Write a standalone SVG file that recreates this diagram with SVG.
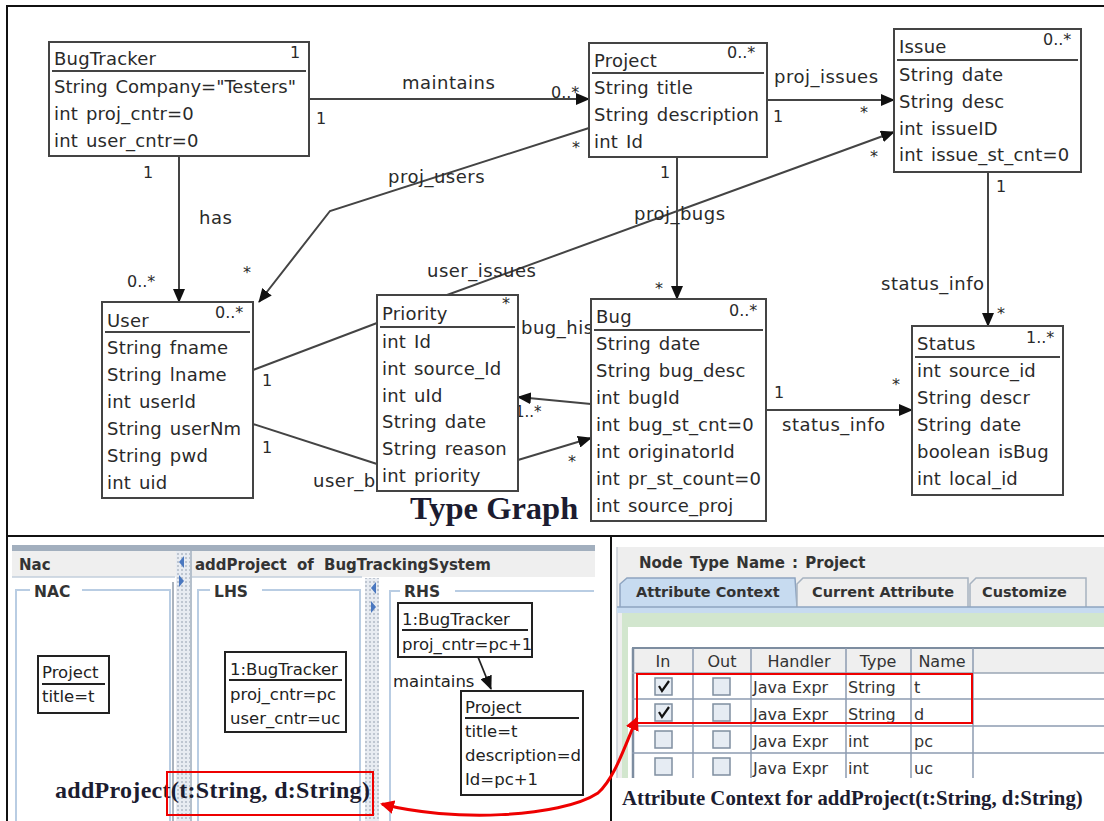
<svg xmlns="http://www.w3.org/2000/svg" width="1104" height="821" viewBox="0 0 1104 821">
<style>
.box{fill:#fff;stroke:#444;stroke-width:2}
.sep{stroke:#444;stroke-width:2}
.t{font-family:"DejaVu Sans",sans-serif;font-size:18px;fill:#2a2a2a;word-spacing:2px;letter-spacing:0.2px}
.m{font-family:"DejaVu Sans",sans-serif;font-size:16px;fill:#2a2a2a}
.l{font-family:"DejaVu Sans",sans-serif;font-size:18px;fill:#2a2a2a;letter-spacing:0.5px}
.c{stroke:#444;stroke-width:2;fill:none}
.ca{stroke:#444;stroke-width:2;fill:none;marker-end:url(#ah)}
.ser{font-family:"Liberation Serif","Times New Roman",serif;font-weight:bold;fill:#1c1c30}
.gb{font-family:"DejaVu Sans",sans-serif;font-weight:bold;font-size:15px;fill:#333}
.gt{font-family:"DejaVu Sans",sans-serif;font-size:16.5px;fill:#222}
.tb{font-family:"DejaVu Sans",sans-serif;font-size:16px;fill:#333}
.nb{fill:#fff;stroke:#222;stroke-width:2}
.lb{stroke:#b9cde3;stroke-width:2;fill:none}
.cb{fill:#e6ecf3;stroke:#7f8ea0;stroke-width:1.5}
.gl{stroke:#8d9bb0;stroke-width:1.5}
</style>
<defs>
<marker id="ah" viewBox="0 0 14 12" refX="13" refY="6" markerWidth="14" markerHeight="12" markerUnits="userSpaceOnUse" orient="auto"><path d="M0,0 L14,6 L0,12 z" fill="#111"/></marker>
<marker id="rh" viewBox="0 0 14 14" refX="12" refY="7" markerWidth="14" markerHeight="14" markerUnits="userSpaceOnUse" orient="auto-start-reverse"><path d="M0,0 L14,7 L0,14 z" fill="#e00"/></marker>
<pattern id="dots" width="4" height="4" patternUnits="userSpaceOnUse"><rect width="4" height="4" fill="#e8ecf2"/><circle cx="2" cy="2" r="0.8" fill="#8a96a8"/></pattern>
</defs>

<rect x="0" y="0" width="1104" height="821" fill="#fff"/>
<rect x="7" y="6" width="1110" height="830" fill="none" stroke="#111" stroke-width="2"/>
<line x1="7" y1="536" x2="1104" y2="536" stroke="#111" stroke-width="2"/>
<line x1="611" y1="536" x2="611" y2="821" stroke="#111" stroke-width="2"/>

<!-- connectors -->
<g id="connectors">
<line class="ca" x1="309" y1="99" x2="589" y2="99"/>
<line class="ca" x1="767" y1="100" x2="894" y2="100"/>
<line class="ca" x1="447" y1="295" x2="894" y2="132"/>
<polyline class="ca" points="589,128 330,211 259,302"/>
<line class="ca" x1="179" y1="156" x2="179" y2="302"/>
<line class="ca" x1="677" y1="157" x2="677" y2="299"/>
<line class="ca" x1="988" y1="172" x2="988" y2="326"/>
<line class="ca" x1="766" y1="410" x2="912" y2="410"/>
<line class="c" x1="253" y1="370" x2="377" y2="323"/>
<line class="c" x1="253" y1="424" x2="377" y2="464"/>
<line class="ca" x1="591" y1="404" x2="518" y2="397"/>
<line class="ca" x1="518" y1="460" x2="591" y2="438"/>
<text class="l" x="402" y="89">maintains</text>
<text class="m" x="551" y="98">0..*</text>
<text class="m" x="316" y="124">1</text>
<text class="l" x="774" y="83">proj_issues</text>
<text class="m" x="773" y="122">1</text>
<text class="m" x="860" y="118">*</text>
<text class="m" x="870" y="162">*</text>
<text class="l" x="388" y="183">proj_users</text>
<text class="m" x="572" y="153">*</text>
<text class="m" x="660" y="178">1</text>
<text class="l" x="634" y="220">proj_bugs</text>
<text class="m" x="655" y="294">*</text>
<text class="l" x="427" y="277">user_issues</text>
<text class="m" x="143" y="178">1</text>
<text class="l" x="199" y="224">has</text>
<text class="m" x="127" y="287">0..*</text>
<text class="m" x="243" y="278">*</text>
<text class="m" x="262" y="386">1</text>
<text class="m" x="262" y="453">1</text>
<text class="l" x="313" y="487">user_b</text>
<text class="l" x="521" y="334">bug_his</text>
<text class="m" x="515" y="417" style="font-size:15px">1..*</text>
<text class="m" x="568" y="467">*</text>
<text class="l" x="881" y="290">status_info</text>
<text class="m" x="997" y="319">*</text>
<text class="m" x="996" y="192">1</text>
<text class="m" x="774" y="398">1</text>
<text class="m" x="892" y="390">*</text>
<text class="l" x="782" y="431">status_info</text>
</g>

<g id="BugTracker">
<rect class="box" x="49" y="42" width="260" height="114"/>
<line class="sep" x1="52" y1="71" x2="306" y2="71"/>
<text class="t" x="54" y="65">BugTracker</text>
<text class="m" x="290" y="58">1</text>
<text class="t" x="54" y="93" style="letter-spacing:0">String Company="Testers"</text>
<text class="t" x="54" y="120">int proj_cntr=0</text>
<text class="t" x="54" y="147">int user_cntr=0</text>
</g>

<g id="Project">
<rect class="box" x="589" y="43" width="178" height="114"/>
<line class="sep" x1="592" y1="73" x2="764" y2="73"/>
<text class="t" x="594" y="67">Project</text>
<text class="m" x="727" y="58">0..*</text>
<text class="t" x="594" y="94">String title</text>
<text class="t" x="594" y="121">String description</text>
<text class="t" x="594" y="148">int Id</text>
</g>

<g id="Issue">
<rect class="box" x="894" y="29" width="187" height="143"/>
<line class="sep" x1="897" y1="60" x2="1078" y2="60"/>
<text class="t" x="899" y="53">Issue</text>
<text class="m" x="1043" y="45">0..*</text>
<text class="t" x="899" y="81">String date</text>
<text class="t" x="899" y="108">String desc</text>
<text class="t" x="899" y="135">int issueID</text>
<text class="t" x="899" y="161">int issue_st_cnt=0</text>
</g>

<g id="User">
<rect class="box" x="102" y="302" width="151" height="196"/>
<line class="sep" x1="105" y1="332" x2="250" y2="332"/>
<text class="t" x="107" y="327">User</text>
<text class="m" x="215" y="318">0..*</text>
<text class="t" x="107" y="354">String fname</text>
<text class="t" x="107" y="381">String lname</text>
<text class="t" x="107" y="408">int userId</text>
<text class="t" x="107" y="435">String userNm</text>
<text class="t" x="107" y="462">String pwd</text>
<text class="t" x="107" y="489">int uid</text>
</g>

<g id="Priority">
<rect class="box" x="377" y="295" width="141" height="196"/>
<line class="sep" x1="380" y1="327" x2="515" y2="327"/>
<text class="t" x="382" y="320">Priority</text>
<text class="m" x="502" y="309">*</text>
<text class="t" x="382" y="348">int Id</text>
<text class="t" x="382" y="375">int source_Id</text>
<text class="t" x="382" y="402">int uId</text>
<text class="t" x="382" y="428">String date</text>
<text class="t" x="382" y="455">String reason</text>
<text class="t" x="382" y="482">int priority</text>
</g>

<g id="Bug">
<rect class="box" x="591" y="299" width="175" height="222"/>
<line class="sep" x1="594" y1="330" x2="763" y2="330"/>
<text class="t" x="596" y="323">Bug</text>
<text class="m" x="729" y="316">0..*</text>
<text class="t" x="596" y="350">String date</text>
<text class="t" x="596" y="377">String bug_desc</text>
<text class="t" x="596" y="404">int bugId</text>
<text class="t" x="596" y="431">int bug_st_cnt=0</text>
<text class="t" x="596" y="458">int originatorId</text>
<text class="t" x="596" y="485">int pr_st_count=0</text>
<text class="t" x="596" y="512">int source_proj</text>
</g>

<g id="Status">
<rect class="box" x="912" y="326" width="151" height="169"/>
<line class="sep" x1="915" y1="357" x2="1060" y2="357"/>
<text class="t" x="917" y="350">Status</text>
<text class="m" x="1026" y="343">1..*</text>
<text class="t" x="917" y="377">int source_id</text>
<text class="t" x="917" y="404">String descr</text>
<text class="t" x="917" y="431">String date</text>
<text class="t" x="917" y="458">boolean isBug</text>
<text class="t" x="917" y="485">int local_id</text>
</g>

<text class="ser" x="410" y="519" style="font-size:32.5px">Type Graph</text>

<!-- bottom-left rule editor -->
<g id="rule-editor">
<rect x="12" y="545" width="583" height="6" fill="#a2afbe"/>
<rect x="12" y="551" width="583" height="26" fill="#efefef"/>
<line x1="12" y1="577" x2="175" y2="577" stroke="#c3cfdc" stroke-width="1.5"/>
<line x1="192" y1="577" x2="362" y2="577" stroke="#c3cfdc" stroke-width="1.5"/>
<rect x="176" y="551" width="14" height="270" fill="url(#dots)"/>
<rect x="190" y="551" width="2" height="270" fill="#b5c0cc"/>
<path d="M184,556 L179,562 L184,568 z" fill="#4a78c0"/>
<path d="M179,575 L184,581 L179,587 z" fill="#4a78c0"/>
<text class="gb" x="19" y="570">Nac</text>
<text class="gb" x="195" y="570" style="word-spacing:5px">addProject of BugTrackingSystem</text>
<path class="lb" d="M30,590 L16,590 L16,821 M82,590 L170,590 L170,821"/>
<line x1="173" y1="582" x2="173" y2="821" stroke="#8e9aa8" stroke-width="1.5"/>
<text class="gb" x="34" y="597" style="font-size:15.5px">NAC</text>
<path class="lb" d="M210,590 L198,590 L198,821 M262,590 L360,590 L360,821"/>
<text class="gb" x="214" y="597" style="font-size:15.5px">LHS</text>
<rect x="365" y="578" width="14" height="243" fill="url(#dots)"/>
<path d="M376,582 L371,588 L376,594 z" fill="#4a78c0"/>
<path d="M371,601 L376,607 L371,613 z" fill="#4a78c0"/>
<path class="lb" d="M400,591 L390,591 L390,821 M455,591 L594,591"/>
<text class="gb" x="404" y="597" style="font-size:15.5px">RHS</text>
</g>

<g id="nac-project">
<rect class="nb" x="38" y="656" width="71" height="57"/>
<line x1="42" y1="684" x2="105" y2="684" stroke="#222" stroke-width="2"/>
<text class="gt" x="42" y="678">Project</text>
<text class="gt" x="42" y="702">title=t</text>
</g>

<g id="lhs-bugtracker">
<rect class="nb" x="225" y="652" width="121" height="80"/>
<line x1="229" y1="680" x2="342" y2="680" stroke="#222" stroke-width="2"/>
<text class="gt" x="230" y="675">1:BugTracker</text>
<text class="gt" x="230" y="700">proj_cntr=pc</text>
<text class="gt" x="230" y="724">user_cntr=uc</text>
</g>

<g id="rhs-bugtracker">
<rect class="nb" x="398" y="603" width="134" height="54"/>
<line x1="402" y1="630" x2="528" y2="630" stroke="#222" stroke-width="2"/>
<text class="gt" x="402" y="625">1:BugTracker</text>
<text class="gt" x="402" y="650">proj_cntr=pc+1</text>
</g>

<g id="rhs-project">
<rect class="nb" x="461" y="691" width="122" height="104"/>
<line x1="465" y1="718" x2="579" y2="718" stroke="#222" stroke-width="2"/>
<text class="gt" x="465" y="713">Project</text>
<text class="gt" x="465" y="737">title=t</text>
<text class="gt" x="465" y="761">description=d</text>
<text class="gt" x="465" y="785">Id=pc+1</text>
</g>

<g id="rhs-connector">
<line x1="478" y1="657" x2="491" y2="689" stroke="#222" stroke-width="1.8" marker-end="url(#ah)"/>
<text class="gt" x="393" y="687">maintains</text>
</g>

<g id="addproject-sig">
<text class="ser" x="55" y="798" style="font-size:24px;letter-spacing:0.3px">addProject(t:String, d:String)</text>
<rect x="167" y="772" width="206" height="43" fill="none" stroke="#e00" stroke-width="2"/>
</g>

<!-- right panel -->
<g id="attribute-panel">
<rect x="617" y="547" width="487" height="231" fill="#eeeeee"/>
<line x1="617" y1="547" x2="617" y2="778" stroke="#c9ced6" stroke-width="1.5"/>
<text class="gb" x="639" y="568" style="word-spacing:2px">Node Type Name :  Project</text>
<path d="M620,607 L620,584 L627,578 L795,578 L797,607" fill="#c7dbf0" stroke="#8ea4c0" stroke-width="1.5"/>
<path d="M797,607 L797,584 L803,578 L968,578 L968,607" fill="#eeeeee" stroke="#a6b2c0" stroke-width="1.5"/>
<path d="M970,607 L970,584 L976,578 L1086,578 L1086,607" fill="#eeeeee" stroke="#a6b2c0" stroke-width="1.5"/>
<text class="gb" x="636" y="597" style="font-size:14.5px">Attribute Context</text>
<text class="gb" x="812" y="597" style="font-size:14.5px">Current Attribute</text>
<text class="gb" x="982" y="597" style="font-size:14.5px">Customize</text>
<rect x="617" y="607" width="487" height="6" fill="#c7dbf0"/>
<line x1="617" y1="607" x2="1104" y2="607" stroke="#8ea4c0" stroke-width="1.5"/>
<rect x="622" y="613" width="482" height="165" fill="#d2e6ce"/>
<rect x="628" y="627" width="476" height="151" fill="#ffffff"/>
<rect x="632" y="648" width="472" height="130" fill="#fff"/>
<rect x="632" y="648" width="472" height="25" fill="#efefef"/>
<line x1="633" y1="648" x2="633" y2="778" stroke="#7d8da0" stroke-width="2.5"/>
<line x1="632" y1="648" x2="1104" y2="648" stroke="#7d8da0" stroke-width="2"/>
<line x1="632" y1="673" x2="1104" y2="673" stroke="#9aa6b4" stroke-width="1.5"/>
<line class="gl" x1="632" y1="699" x2="1104" y2="699"/>
<line class="gl" x1="632" y1="726" x2="1104" y2="726"/>
<line class="gl" x1="632" y1="753" x2="1104" y2="753"/>
<line class="gl" x1="693" y1="648" x2="693" y2="778"/>
<line class="gl" x1="751" y1="648" x2="751" y2="778"/>
<line class="gl" x1="846" y1="648" x2="846" y2="778"/>
<line class="gl" x1="911" y1="648" x2="911" y2="778"/>
<line class="gl" x1="973" y1="648" x2="973" y2="778"/>
<text class="tb" x="663" y="667" text-anchor="middle">In</text>
<text class="tb" x="722" y="667" text-anchor="middle">Out</text>
<text class="tb" x="799" y="667" text-anchor="middle">Handler</text>
<text class="tb" x="878" y="667" text-anchor="middle">Type</text>
<text class="tb" x="942" y="667" text-anchor="middle">Name</text>
<rect class="cb" x="655" y="678" width="17" height="17"/>
<rect class="cb" x="655" y="704" width="17" height="17"/>
<rect class="cb" x="655" y="731" width="17" height="17"/>
<rect class="cb" x="655" y="758" width="17" height="17"/>
<rect class="cb" x="713" y="678" width="17" height="17"/>
<rect class="cb" x="713" y="704" width="17" height="17"/>
<rect class="cb" x="713" y="731" width="17" height="17"/>
<rect class="cb" x="713" y="758" width="17" height="17"/>
<path d="M659,686 L662,691 L669,681" fill="none" stroke="#111" stroke-width="2.2"/>
<path d="M659,712 L662,717 L669,707" fill="none" stroke="#111" stroke-width="2.2"/>
<text class="tb" x="753" y="693">Java Expr</text>
<text class="tb" x="753" y="720">Java Expr</text>
<text class="tb" x="753" y="747">Java Expr</text>
<text class="tb" x="753" y="774">Java Expr</text>
<text class="tb" x="848" y="693">String</text>
<text class="tb" x="848" y="720">String</text>
<text class="tb" x="848" y="747">int</text>
<text class="tb" x="848" y="774">int</text>
<text class="tb" x="914" y="693">t</text>
<text class="tb" x="914" y="720">d</text>
<text class="tb" x="914" y="747">pc</text>
<text class="tb" x="914" y="774">uc</text>
<rect x="637" y="674" width="335" height="49" fill="none" stroke="#e00" stroke-width="2"/>
<rect x="612" y="778" width="492" height="43" fill="#fff"/>
<text class="ser" x="622" y="805" style="font-size:20.8px">Attribute Context for addProject(t:String, d:String)</text>
</g>

<g id="red-link">
<path d="M382,804 C450,822 560,818 598,793 C615,778 625,745 637,718" fill="none" stroke="#e00" stroke-width="3" marker-start="url(#rh)" marker-end="url(#rh)"/>
</g>
</svg>
